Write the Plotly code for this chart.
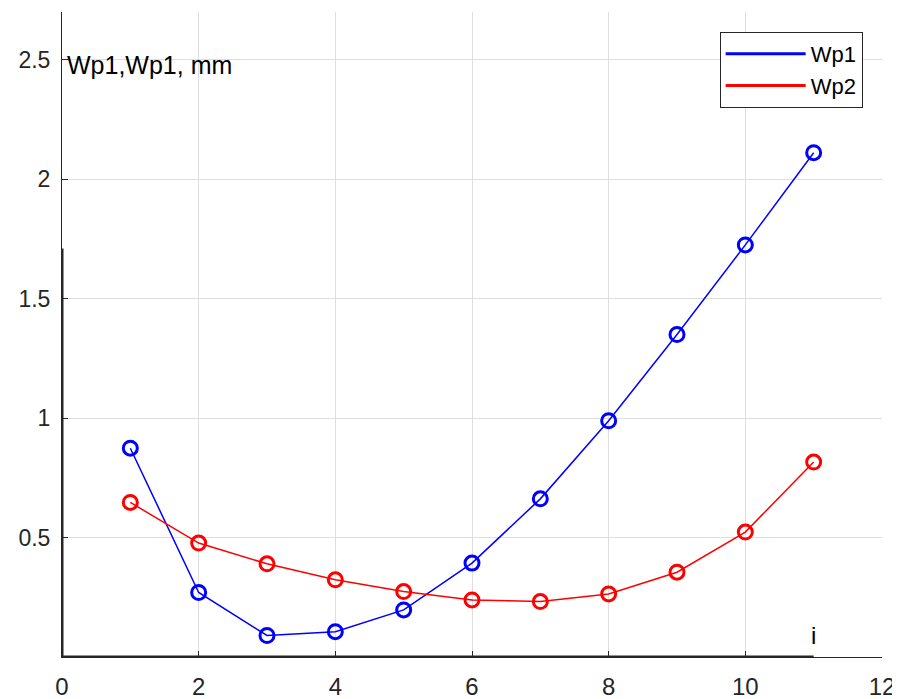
import plotly.graph_objects as go

i_vals = [1, 2, 3, 4, 5, 6, 7, 8, 9, 10, 11]
wp1 = [0.874, 0.270, 0.090, 0.106, 0.197, 0.393, 0.662, 0.989, 1.350, 1.725, 2.111]
wp2 = [0.647, 0.477, 0.390, 0.323, 0.274, 0.239, 0.232, 0.264, 0.355, 0.523, 0.816]
x_ticks = [0, 2, 4, 6, 8, 10, 12]
y_ticks = [0.5, 1, 1.5, 2, 2.5]
y_tick_text = ["0.5", "1", "1.5", "2", "2.5"]

FONT = "Liberation Sans, Arial, sans-serif"
AX = "#262626"

fig = go.Figure()
for name, vals, col in [("Wp1", wp1, "#0000ff"), ("Wp2", wp2, "#ff0000")]:
    fig.add_trace(go.Scatter(
        x=i_vals, y=vals, mode="lines+markers", name=name, showlegend=False,
        line=dict(color=col, width=1.5),
        marker=dict(symbol="circle-open", size=14, line=dict(width=3, color=col), color=col),
    ))
    fig.add_trace(go.Scatter(
        x=[None], y=[None], mode="lines", name=name,
        line=dict(color=col, width=3),
    ))

fig.update_xaxes(
    range=[0, 12], tickvals=x_ticks, ticks="inside", ticklen=6, tickcolor=AX,
    showline=True, linecolor=AX, linewidth=1, mirror=False, automargin=False,
    showgrid=True, gridcolor="#dedede", gridwidth=1, zeroline=False,
    tickfont=dict(family=FONT, size=24, color=AX), ticklabelstandoff=8,
)
fig.update_yaxes(
    range=[0, 2.7], tickvals=y_ticks, ticktext=y_tick_text, ticks="inside", ticklen=6, tickcolor=AX,
    showline=True, linecolor=AX, linewidth=1, mirror=False, automargin=False,
    showgrid=True, gridcolor="#dedede", gridwidth=1, zeroline=False,
    tickfont=dict(family=FONT, size=23, color=AX), ticklabelstandoff=6,
)

# heavier axis segments as in the source figure
fig.add_shape(type="line", xref="x", yref="y", x0=0, x1=11, y0=0, y1=0,
              line=dict(color=AX, width=3), layer="above")
fig.add_shape(type="line", xref="x", yref="y", x0=0, x1=0, y0=0, y1=1.71,
              line=dict(color=AX, width=3), layer="above")

fig.add_annotation(x=0.04, y=2.48, xref="x", yref="y", text="Wp1,Wp1, mm", showarrow=False,
                   xanchor="left", yanchor="middle", font=dict(family=FONT, size=25, color="#000000"))
fig.add_annotation(x=11.0, y=0.092, xref="x", yref="y", text="i", showarrow=False,
                   xanchor="center", yanchor="middle", font=dict(family=FONT, size=24, color="#000000"))

# page body has an 8px margin, so the figure is 892x691 to fill the 900x699 window
fig.update_layout(
    width=892, height=691,
    margin=dict(l=54, r=18, t=4, b=42, autoexpand=False),
    paper_bgcolor="white", plot_bgcolor="white",
    font=dict(family=FONT, color=AX),
    showlegend=True,
    legend=dict(x=0.802, y=0.969, xanchor="left", yanchor="top",
                bgcolor="white", bordercolor=AX, borderwidth=1,
                font=dict(family=FONT, size=22, color="#000000"),
                itemwidth=80, tracegroupgap=0),
)

fig.write_html("out.html")
